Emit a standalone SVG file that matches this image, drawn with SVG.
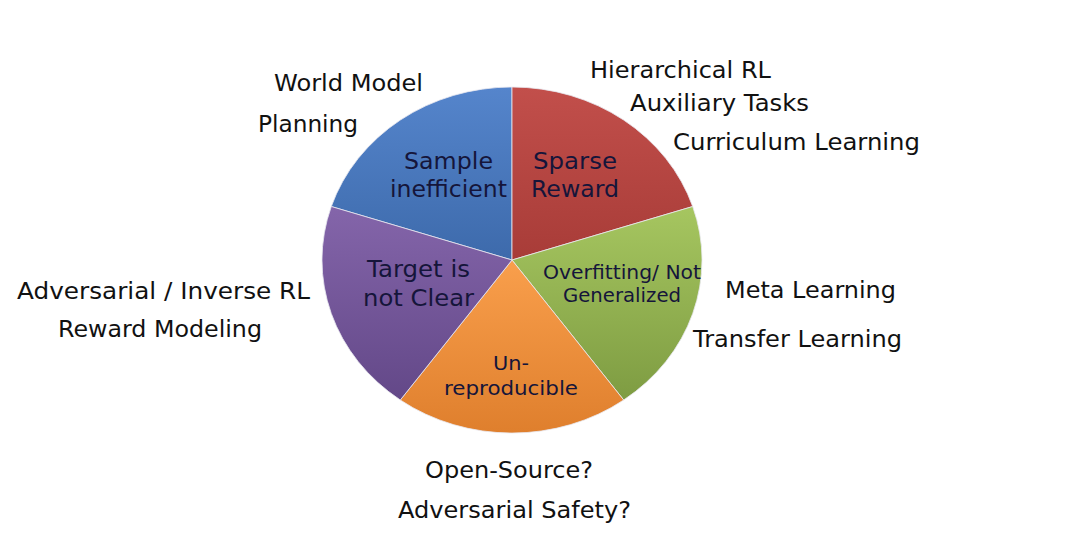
<svg xmlns="http://www.w3.org/2000/svg" width="1080" height="560" viewBox="0 0 1080 560">
  <defs>
    <linearGradient id="gBlue" x1="0" y1="0" x2="0" y2="1">
      <stop offset="0" stop-color="#5585cc"/>
      <stop offset="1" stop-color="#3d6aab"/>
    </linearGradient>
    <linearGradient id="gRed" x1="0" y1="0" x2="0" y2="1">
      <stop offset="0" stop-color="#c24f4b"/>
      <stop offset="1" stop-color="#a83c38"/>
    </linearGradient>
    <linearGradient id="gGreen" x1="0" y1="0" x2="0" y2="1">
      <stop offset="0" stop-color="#a6c660"/>
      <stop offset="1" stop-color="#7e9c42"/>
    </linearGradient>
    <linearGradient id="gOrange" x1="0" y1="0" x2="0" y2="1">
      <stop offset="0" stop-color="#f99f4c"/>
      <stop offset="1" stop-color="#df7f2d"/>
    </linearGradient>
    <linearGradient id="gPurple" x1="0" y1="0" x2="0" y2="1">
      <stop offset="0" stop-color="#8465aa"/>
      <stop offset="1" stop-color="#634888"/>
    </linearGradient>
  </defs>
  <style>
    .slice { stroke: #e8e8f0; stroke-width: 1; stroke-opacity: 0.8; }
    .lbl { font-family: "DejaVu Sans", Verdana, sans-serif; font-size: 23.5px; fill: #111111; }
    .in { font-family: "DejaVu Sans", Verdana, sans-serif; fill: #15153a; }
  </style>
  <rect width="1080" height="560" fill="#ffffff"/>

  <g id="pie">
    <g id="slice-sample">
      <path class="slice" fill="url(#gBlue)" d="M512,260 L331.3,206.5 A190,173 0 0 1 512,87 Z"/>
      <text class="in" font-size="23.5"><tspan x="404" y="169" textLength="89" lengthAdjust="spacingAndGlyphs">Sample</tspan><tspan x="390" y="197" textLength="117" lengthAdjust="spacingAndGlyphs">inefficient</tspan></text>
    </g>
    <g id="slice-sparse">
      <path class="slice" fill="url(#gRed)" d="M512,260 L512,87 A190,173 0 0 1 692.7,206.5 Z"/>
      <text class="in" font-size="23.5"><tspan x="533" y="169" textLength="84" lengthAdjust="spacingAndGlyphs">Sparse</tspan><tspan x="531" y="197" textLength="88" lengthAdjust="spacingAndGlyphs">Reward</tspan></text>
    </g>
    <g id="slice-overfit">
      <path class="slice" fill="url(#gGreen)" d="M512,260 L692.7,206.5 A190,173 0 0 1 623.7,400 Z"/>
      <text class="in" font-size="19"><tspan x="543" y="279" textLength="158" lengthAdjust="spacingAndGlyphs">Overfitting/ Not</tspan><tspan x="563" y="302" textLength="118" lengthAdjust="spacingAndGlyphs">Generalized</tspan></text>
    </g>
    <g id="slice-repro">
      <path class="slice" fill="url(#gOrange)" d="M512,260 L623.7,400 A190,173 0 0 1 400.3,400 Z"/>
      <text class="in" font-size="20"><tspan x="493" y="370" textLength="36" lengthAdjust="spacingAndGlyphs">Un-</tspan><tspan x="444" y="395" textLength="134" lengthAdjust="spacingAndGlyphs">reproducible</tspan></text>
    </g>
    <g id="slice-target">
      <path class="slice" fill="url(#gPurple)" d="M512,260 L400.3,400 A190,173 0 0 1 331.3,206.5 Z"/>
      <text class="in" font-size="23.5"><tspan x="367" y="277" textLength="103" lengthAdjust="spacingAndGlyphs">Target is</tspan><tspan x="363" y="306" textLength="111" lengthAdjust="spacingAndGlyphs">not Clear</tspan></text>
    </g>
  </g>

  <g id="labels">
    <text class="lbl" x="274" y="91" textLength="149" lengthAdjust="spacingAndGlyphs">World Model</text>
    <text class="lbl" x="258" y="132" textLength="100" lengthAdjust="spacingAndGlyphs">Planning</text>
    <text class="lbl" x="590" y="78" textLength="181" lengthAdjust="spacingAndGlyphs">Hierarchical RL</text>
    <text class="lbl" x="630" y="111" textLength="179" lengthAdjust="spacingAndGlyphs">Auxiliary Tasks</text>
    <text class="lbl" x="673" y="150" textLength="247" lengthAdjust="spacingAndGlyphs">Curriculum Learning</text>
    <text class="lbl" x="17" y="299" textLength="293" lengthAdjust="spacingAndGlyphs">Adversarial / Inverse RL</text>
    <text class="lbl" x="58" y="337" textLength="204" lengthAdjust="spacingAndGlyphs">Reward Modeling</text>
    <text class="lbl" x="725" y="298" textLength="171" lengthAdjust="spacingAndGlyphs">Meta Learning</text>
    <text class="lbl" x="693" y="347" textLength="209" lengthAdjust="spacingAndGlyphs">Transfer Learning</text>
    <text class="lbl" x="425" y="478" textLength="168" lengthAdjust="spacingAndGlyphs">Open-Source?</text>
    <text class="lbl" x="398" y="518" textLength="233" lengthAdjust="spacingAndGlyphs">Adversarial Safety?</text>
  </g>
</svg>
